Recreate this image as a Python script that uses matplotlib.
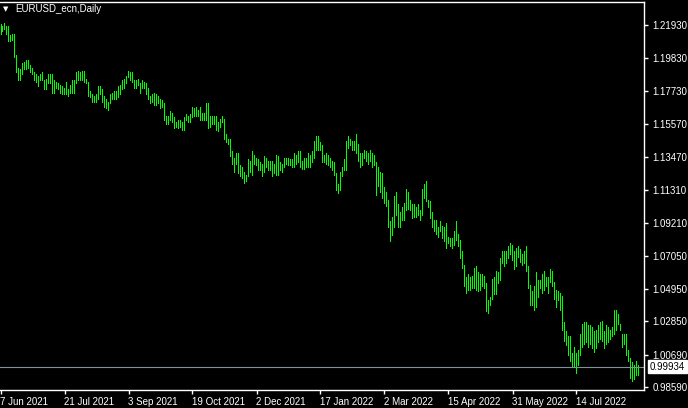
import numpy as np
import pandas as pd
import matplotlib
matplotlib.use("Agg")
import matplotlib.pyplot as plt

# chart data (daily bars, high / low)
symbol = "EURUSD_ecn,Daily"
start_date = "2021-06-07"
last_price = 0.99934

highs = [
    1.220, 1.219, 1.221, 1.219, 1.219, 1.213, 1.214, 1.214, 1.200, 1.192,
    1.191, 1.195, 1.196, 1.197, 1.197, 1.194, 1.192, 1.189, 1.188, 1.187,
    1.188, 1.189, 1.184, 1.185, 1.188, 1.188, 1.188, 1.184, 1.183, 1.182,
    1.181, 1.180, 1.179, 1.183, 1.178, 1.181, 1.184, 1.184, 1.189, 1.190,
    1.189, 1.190, 1.190, 1.185, 1.183, 1.177, 1.175, 1.174, 1.175, 1.180,
    1.180, 1.178, 1.174, 1.172, 1.170, 1.175, 1.176, 1.177, 1.177, 1.180,
    1.181, 1.184, 1.185, 1.187, 1.190,
    1.189, 1.189, 1.184, 1.184, 1.185, 1.182, 1.184, 1.183, 1.182, 1.179,
    1.174, 1.175, 1.176, 1.175, 1.174, 1.172, 1.171, 1.169, 1.161, 1.161,
    1.164, 1.163, 1.160, 1.157, 1.158, 1.158, 1.157, 1.160, 1.162, 1.161,
    1.162, 1.167, 1.166, 1.167, 1.165, 1.167, 1.163, 1.163, 1.169, 1.169,
    1.161, 1.161, 1.161, 1.161, 1.157, 1.159, 1.161, 1.159, 1.149, 1.146,
    1.146, 1.138, 1.134, 1.137, 1.137, 1.129, 1.128, 1.125, 1.123, 1.133,
    1.132, 1.138, 1.136, 1.134,
    1.133, 1.131, 1.130, 1.135, 1.134, 1.132, 1.132, 1.132, 1.130, 1.136,
    1.135, 1.131, 1.130, 1.134, 1.134, 1.134, 1.133, 1.133, 1.137, 1.136,
    1.138, 1.138, 1.132, 1.134, 1.134, 1.137, 1.136, 1.138, 1.145, 1.148,
    1.148, 1.144, 1.142, 1.136, 1.137, 1.136, 1.134, 1.132, 1.131, 1.124,
    1.117, 1.125, 1.128, 1.133, 1.145, 1.148, 1.146, 1.145, 1.145, 1.149,
    1.143, 1.137, 1.137, 1.139, 1.138, 1.137, 1.139, 1.137, 1.136, 1.131,
    1.128, 1.125, 1.124, 1.115,
    1.112, 1.107, 1.093, 1.096, 1.109, 1.112, 1.104, 1.099, 1.102, 1.105,
    1.114, 1.112, 1.107, 1.104, 1.104, 1.102, 1.104, 1.100, 1.114, 1.117,
    1.119, 1.107, 1.106, 1.099, 1.094, 1.094, 1.089, 1.093, 1.090, 1.089,
    1.092, 1.083, 1.082, 1.082, 1.087, 1.093, 1.085, 1.081, 1.074, 1.065,
    1.057, 1.059, 1.057, 1.058, 1.063, 1.064, 1.060, 1.059, 1.059, 1.058,
    1.053, 1.042, 1.044, 1.056, 1.057, 1.061, 1.060, 1.069, 1.074, 1.074,
    1.074, 1.077, 1.079, 1.078,
    1.074, 1.076, 1.077, 1.075, 1.072, 1.074, 1.077, 1.064, 1.052, 1.048,
    1.051, 1.060, 1.055, 1.055, 1.059, 1.061, 1.057, 1.057, 1.062, 1.061,
    1.054, 1.049, 1.048, 1.047, 1.045, 1.028, 1.022, 1.019, 1.019, 1.008,
    1.012, 1.008, 1.010, 1.020, 1.027, 1.028, 1.028, 1.026, 1.026, 1.025,
    1.022, 1.023, 1.026, 1.028, 1.029, 1.022, 1.026, 1.025, 1.023, 1.025,
    1.036, 1.036, 1.033, 1.027, 1.020, 1.020, 1.020, 1.010, 1.005, 1.002,
    1.000, 1.003, 1.000,
]

lows = [
    1.214, 1.216, 1.217, 1.214, 1.209, 1.209, 1.210, 1.199, 1.189, 1.184,
    1.184, 1.188, 1.191, 1.191, 1.192, 1.189, 1.188, 1.184, 1.183, 1.180,
    1.184, 1.184, 1.178, 1.178, 1.182, 1.182, 1.176, 1.176, 1.179, 1.178,
    1.176, 1.175, 1.175, 1.175, 1.174, 1.176, 1.176, 1.176, 1.182, 1.184,
    1.184, 1.184, 1.183, 1.182, 1.174, 1.173, 1.170, 1.170, 1.170, 1.172,
    1.175, 1.170, 1.167, 1.166, 1.165, 1.169, 1.172, 1.172, 1.172, 1.173,
    1.175, 1.178, 1.179, 1.182, 1.186,
    1.184, 1.183, 1.179, 1.179, 1.181, 1.176, 1.179, 1.179, 1.175, 1.172,
    1.169, 1.170, 1.168, 1.168, 1.169, 1.166, 1.167, 1.158, 1.156, 1.156,
    1.158, 1.157, 1.153, 1.154, 1.153, 1.154, 1.152, 1.152, 1.158, 1.157,
    1.157, 1.160, 1.161, 1.161, 1.161, 1.158, 1.158, 1.158, 1.158, 1.153,
    1.154, 1.156, 1.156, 1.152, 1.151, 1.154, 1.157, 1.146, 1.144, 1.143,
    1.135, 1.130, 1.125, 1.130, 1.124, 1.122, 1.121, 1.118, 1.119, 1.122,
    1.125, 1.123, 1.130, 1.129,
    1.126, 1.126, 1.122, 1.125, 1.128, 1.126, 1.126, 1.122, 1.124, 1.123,
    1.123, 1.126, 1.125, 1.128, 1.130, 1.129, 1.129, 1.128, 1.128, 1.130,
    1.131, 1.128, 1.127, 1.127, 1.128, 1.128, 1.128, 1.131, 1.134, 1.139,
    1.139, 1.139, 1.131, 1.131, 1.130, 1.129, 1.128, 1.126, 1.123, 1.113,
    1.111, 1.113, 1.122, 1.126, 1.126, 1.140, 1.142, 1.139, 1.139, 1.137,
    1.132, 1.128, 1.129, 1.134, 1.132, 1.130, 1.132, 1.128, 1.129, 1.110,
    1.116, 1.112, 1.108, 1.105,
    1.103, 1.089, 1.080, 1.084, 1.089, 1.097, 1.089, 1.089, 1.094, 1.094,
    1.100, 1.101, 1.100, 1.095, 1.096, 1.096, 1.097, 1.094, 1.097, 1.108,
    1.106, 1.102, 1.095, 1.089, 1.087, 1.085, 1.083, 1.087, 1.082, 1.080,
    1.076, 1.079, 1.077, 1.076, 1.078, 1.081, 1.077, 1.069, 1.063, 1.051,
    1.047, 1.049, 1.049, 1.050, 1.050, 1.049, 1.048, 1.049, 1.051, 1.050,
    1.035, 1.034, 1.039, 1.043, 1.046, 1.046, 1.053, 1.055, 1.066, 1.064,
    1.066, 1.069, 1.072, 1.068,
    1.062, 1.064, 1.070, 1.067, 1.065, 1.066, 1.061, 1.050, 1.039, 1.039,
    1.036, 1.038, 1.044, 1.050, 1.047, 1.049, 1.051, 1.047, 1.054, 1.051,
    1.043, 1.038, 1.042, 1.036, 1.023, 1.016, 1.013, 1.007, 1.003, 0.999,
    0.999, 0.995, 1.000, 1.007, 1.012, 1.014, 1.015, 1.012, 1.014, 1.011,
    1.009, 1.011, 1.015, 1.017, 1.016, 1.011, 1.014, 1.015, 1.017, 1.019,
    1.020, 1.023, 1.027, 1.023, 1.012, 1.014, 1.007, 1.003, 0.992, 0.990,
    0.991, 0.994, 0.994,
]

price_ticks = [1.21930, 1.19830, 1.17730, 1.15570, 1.13470, 1.11310,
               1.09210, 1.07050, 1.04950, 1.02850, 1.00690, 0.98590]
date_ticks = ["7 Jun 2021", "21 Jul 2021", "3 Sep 2021", "19 Oct 2021",
              "2 Dec 2021", "17 Jan 2022", "2 Mar 2022", "15 Apr 2022",
              "31 May 2022", "14 Jul 2022"]

dates = pd.bdate_range(start_date, periods=len(highs))
idx = np.arange(len(highs))
tick_pos = [dates.get_loc(pd.to_datetime(d)) for d in date_ticks]

plt.rcParams["font.family"] = ["Liberation Sans", "DejaVu Sans"]

fig = plt.figure(figsize=(6.88, 4.08), dpi=100, facecolor="black")
ax = fig.add_axes([0, 18 / 408, 644 / 688, 388 / 408])
ax.set_facecolor("black")

# 1 px wide bars, 2 px apart like the terminal
ax.vlines(idx, lows, highs, colors="#00ff00", linewidth=0.72, antialiased=False)

# bid line
ax.axhline(last_price, color="#8090a0", linewidth=0.8)

ax.set_xlim(-0.25, 321.75)
ax.set_ylim(0.9842, 1.2344)

for s in ["top", "right", "bottom"]:
    ax.spines[s].set_color("white")
    ax.spines[s].set_linewidth(1.0)
ax.spines["left"].set_visible(False)

ax.yaxis.tick_right()
ax.set_yticks(price_ticks)
ax.set_yticklabels([f"{p:.5f}" for p in price_ticks])
ax.set_xticks(tick_pos)
ax.set_xticklabels(date_ticks)
for lbl in ax.get_xticklabels():
    lbl.set_horizontalalignment("left")
ax.tick_params(colors="white", labelsize=7, length=3, width=1, pad=2)
ax.tick_params(axis="y", pad=3)

ax.annotate(f"{last_price:.5f}", xy=(1.0, last_price),
            xycoords=("axes fraction", "data"), xytext=(4, 0),
            textcoords="offset points", va="center", ha="left",
            fontsize=7, color="black",
            bbox=dict(boxstyle="square,pad=0.2", fc="white", ec="white"))

# symbol caption
fig.text(6 / 688, 1 - 9 / 408, "\u25bc", color="white", fontsize=5,
         ha="center", va="center", family="DejaVu Sans")
fig.text(15 / 688, 1 - 9 / 408, symbol, color="white", fontsize=7,
         ha="left", va="center")

fig.savefig("out.png", dpi=100, facecolor="black")
